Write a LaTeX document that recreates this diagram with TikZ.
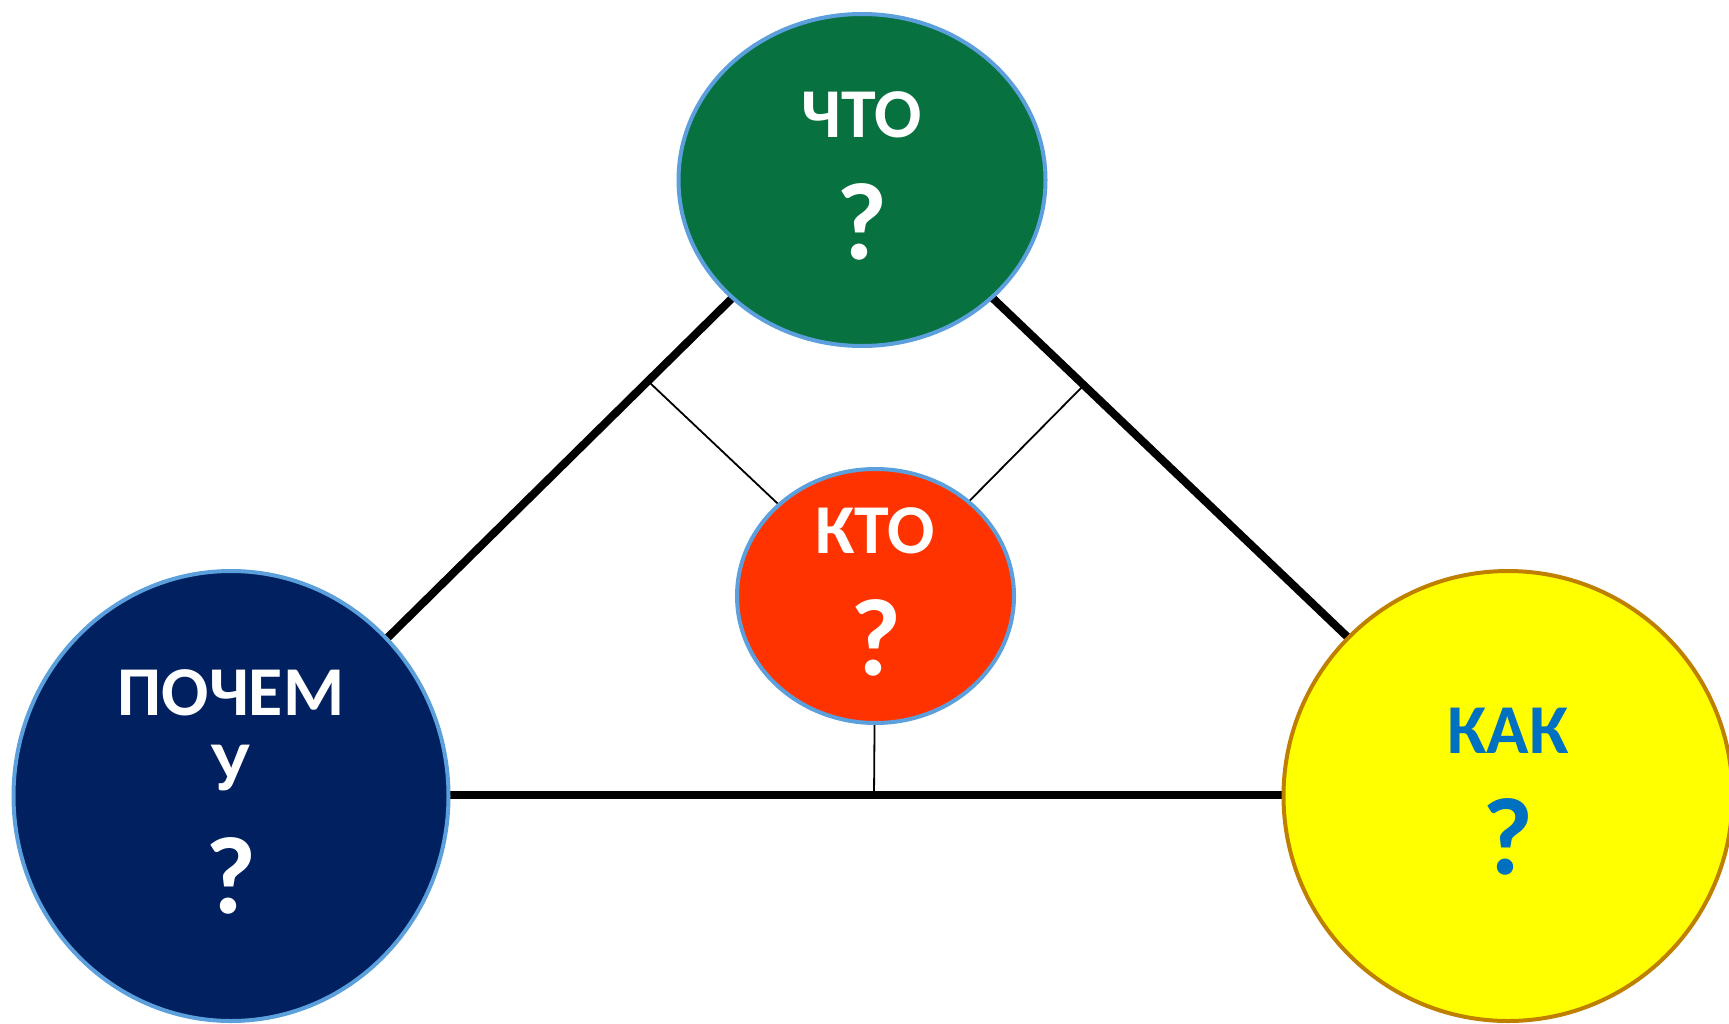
\documentclass[tikz,border=0pt]{standalone}
\usepackage{fontspec}
\setmainfont{Carlito}
\usetikzlibrary{shapes.geometric,backgrounds,calc}
\definecolor{cgreen}{RGB}{7,113,64}
\definecolor{cnavy}{RGB}{0,32,96}
\definecolor{cred}{RGB}{255,51,0}
\definecolor{cyellow}{RGB}{255,255,0}
\definecolor{cedge}{RGB}{91,160,220}
\definecolor{cgold}{RGB}{191,128,0}
\definecolor{cblue}{RGB}{0,112,192}
\newcommand{\qmark}{{\bfseries\fontsize{110}{110}\selectfont ?}}
\begin{document}
\begin{tikzpicture}[x=1pt,y=-1pt,
  bubble/.style={ellipse, draw=cedge, line width=4pt, inner sep=0pt, align=center,
    text=white, font=\bfseries\fontsize{70}{75}\selectfont, text depth=9pt},
  thickline/.style={line width=8pt},
  thinline/.style={line width=1.8pt}]
\useasboundingbox (0,0) rectangle (1729,1023);
\node[bubble, fill=cgreen, minimum width=367pt, minimum height=332pt] (what) at (862,180)
  {ЧТО\\[44pt]\qmark};
\node[bubble, fill=cnavy, minimum width=435pt, minimum height=450pt] (why) at (231,796)
  {ПОЧЕМ\\У\\[45pt]\qmark};
\node[bubble, fill=cyellow, draw=cgold, text=cblue, minimum width=449pt, minimum height=450pt] (how) at (1508,796)
  {КАК\\[44pt]\qmark};
\node[bubble, fill=cred, minimum width=277pt, minimum height=254pt] (who) at (875.5,596)
  {КТО\\[44pt]\qmark};
\coordinate (fl) at (650,383);
\coordinate (fr) at (1082,387);
\coordinate (fb) at (874,797);
\begin{scope}[on background layer]
  \draw[thickline] ([xshift=-10pt]what.center) -- ([xshift=-4pt]why.center);
  \draw[thickline] ([xshift=7pt]what.center) -- ([xshift=6pt]how.center);
  \draw[thickline] ([yshift=1pt]why.center) -- ([yshift=1pt]how.center);
  \draw[thinline] (fl) -- (who.center);
  \draw[thinline] (fr) -- (who.center);
  \draw[thinline] (fb) -- (who.center);
\end{scope}
\end{tikzpicture}
\end{document}
